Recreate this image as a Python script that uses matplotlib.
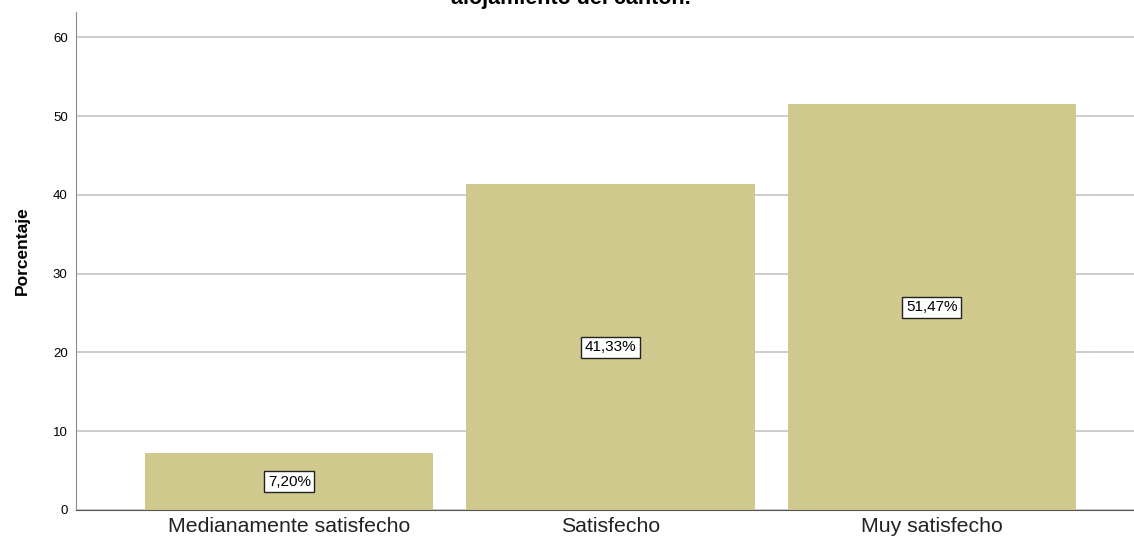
import matplotlib.pyplot as plt

plt.rcParams['font.family'] = ['Liberation Sans', 'DejaVu Sans']

categories = ["Medianamente satisfecho", "Satisfecho", "Muy satisfecho"]
percentages = [7.20, 41.33, 51.47]
yticks = [0, 10, 20, 30, 40, 50, 60]

fig = plt.figure(figsize=(11.34, 5.44), dpi=100)
ax = fig.add_axes([76 / 1134, 34 / 544, (1134 - 76) / 1134, (510 - 12) / 544])

x = range(len(categories))
ax.bar(x, percentages, width=0.897, color="#D0C98E", zorder=2)
for xi, v in zip(x, percentages):
    ax.text(xi, v / 2, f"{v:.2f}%".replace(".", ","), ha="center", va="center",
            fontsize=11, zorder=3,
            bbox=dict(facecolor="white", edgecolor="#222222", linewidth=1.0, pad=2.5))

ax.set_xlim(-0.664, 2.63)
ax.set_ylim(0, 63.2)
ax.set_yticks(yticks)
ax.set_xticks(list(x))
ax.set_xticklabels(categories, fontsize=15.3, color="#222222")
ax.tick_params(axis="y", labelsize=9.5, length=0, pad=6)
ax.tick_params(axis="x", length=0, pad=5)
ax.yaxis.grid(True, color="#c4c4c4", linewidth=1.2, zorder=0)
ax.set_axisbelow(True)
for s in ["top", "right"]:
    ax.spines[s].set_visible(False)
ax.spines["left"].set_color("#8a8a8a")
ax.spines["bottom"].set_color("#555555")
ax.set_ylabel("Porcentaje", fontsize=12.5, fontweight="bold")
ax.yaxis.set_label_coords(-0.0435, 0.52)

fig.text(571 / 1134, 1 - 4 / 544, "alojamiento del cantón.", ha="center", va="baseline",
         fontsize=15.5, fontweight="bold")

fig.savefig("out.png", dpi=100)
